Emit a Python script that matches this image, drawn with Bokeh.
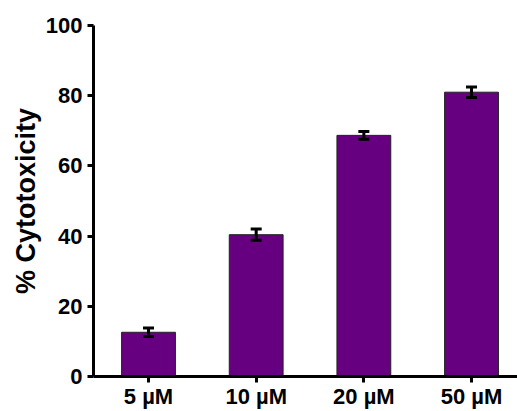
from bokeh.plotting import figure
from bokeh.models import ColumnDataSource, Whisker, FixedTicker, Range1d, TeeHead
from bokeh.embed import file_html
from bokeh.resources import INLINE

categories = ["5 µM", "10 µM", "20 µM", "50 µM"]
values = [12.6, 40.4, 68.7, 81.0]
errors = [1.2, 1.6, 1.1, 1.5]
y_ticks = [0, 20, 40, 60, 80, 100]

xs = list(range(len(categories)))
src = ColumnDataSource(dict(
    x=xs, top=values,
    upper=[v + e for v, e in zip(values, errors)],
    lower=[v - e for v, e in zip(values, errors)],
))

p = figure(width=517, height=411, output_backend="svg", toolbar_location=None,
           x_range=Range1d(-0.511, 3.427), y_range=Range1d(0, 100),
           min_border_left=93, min_border_right=0, min_border_top=25, min_border_bottom=35)
p.outline_line_color = None
p.xgrid.visible = False
p.ygrid.visible = False

p.vbar(x="x", top="top", width=0.5, bottom=0, source=src,
       fill_color="#660080", line_color="#222222", line_width=1)

w = Whisker(base="x", upper="upper", lower="lower", source=src,
            line_color="black", line_width=3, level="annotation",
            upper_head=TeeHead(size=11, line_width=3, line_color="black"),
            lower_head=TeeHead(size=11, line_width=3, line_color="black"))
p.add_layout(w)

for ax in (p.xaxis[0], p.yaxis[0]):
    ax.axis_line_width = 3
    ax.axis_line_color = "black"
    ax.major_tick_line_width = 3
    ax.major_tick_line_color = "black"
    ax.major_tick_out = 6
    ax.major_tick_in = 0
    ax.minor_tick_line_color = None
    ax.major_label_text_font = "Liberation Sans"
    ax.major_label_text_font_style = "bold"
    ax.major_label_text_font_size = "22px"
    ax.major_label_text_color = "black"

p.xaxis.ticker = FixedTicker(ticks=xs)
p.xaxis.major_label_overrides = {i: c for i, c in enumerate(categories)}
p.xaxis.major_label_standoff = 1
p.yaxis.ticker = FixedTicker(ticks=y_ticks)
p.yaxis.major_label_standoff = 5
p.yaxis.axis_label = "% Cytotoxicity"
p.yaxis.axis_label_text_font = "Liberation Sans"
p.yaxis.axis_label_text_font_style = "bold"
p.yaxis.axis_label_text_font_size = "27px"
p.yaxis.axis_label_text_color = "black"
p.yaxis.axis_label_standoff = 2

open("out.html", "w").write(file_html(p, INLINE))
